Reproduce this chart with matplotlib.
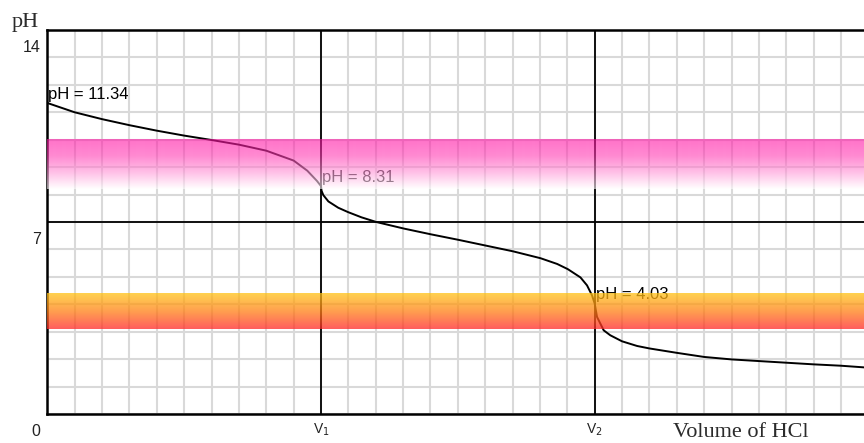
import numpy as np
import matplotlib
matplotlib.use("Agg")
import matplotlib.pyplot as plt

# curve (volume in grid units, V1 = 10, V2 = 20)
vol_1 = [0, 1, 2, 3, 4, 5, 6, 7, 8, 9, 9.5, 9.85, 10.0]
ph_1 = [11.34, 11.0, 10.75, 10.53, 10.33, 10.15, 9.99, 9.82, 9.6, 9.24, 8.87, 8.5, 8.31]
vol_2 = [10.0, 10.02, 10.085, 10.27, 10.63, 10.99, 11.48, 12.02, 13.03, 14.02, 15.02,
         16.02, 17.02, 18.02, 18.63, 19.02, 19.48, 19.72, 19.9, 20.0]
ph_2 = [8.31, 8.14, 7.98, 7.75, 7.52, 7.36, 7.17, 7.0, 6.76, 6.55, 6.35,
        6.14, 5.93, 5.68, 5.47, 5.28, 4.98, 4.69, 4.33, 4.03]
vol_3 = [20.0, 20.085, 20.33, 20.57, 21, 21.55, 22, 23, 24, 25, 26, 27, 28, 29, 29.84]
ph_3 = [4.03, 3.54, 3.05, 2.87, 2.65, 2.48, 2.39, 2.23, 2.08, 1.99, 1.93, 1.87, 1.81, 1.76, 1.70]

equiv_vols = [10, 20]
equiv_labels = ["V$_1$", "V$_2$"]
point_labels = [(0, 11.34, "pH = 11.34"), (10, 8.31, "pH = 8.31"), (20, 4.03, "pH = 4.03")]
y_ticks = [0, 7, 14]

phenol_range = (8.2, 10.0)
methyl_range = (3.1, 4.4)

W, H = 864, 443
X_MAX = 29.84

fig = plt.figure(figsize=(W / 100, H / 100), dpi=100)
ax = fig.add_axes([47.3 / W, 29 / H, 1 - 47.3 / W, 384 / H])
ax.set_xlim(0, X_MAX)
ax.set_ylim(0, 14)

# light grid every unit
ax.set_xticks(np.arange(0, 30))
ax.set_yticks(np.arange(0, 15))
ax.grid(True, color="#d9d9d9", lw=1.5, zorder=0)
ax.tick_params(length=0, labelbottom=False, labelleft=False)
ax.set_axisbelow(True)
for side in ["left", "bottom", "top"]:
    ax.spines[side].set_linewidth(1.8)
    ax.spines[side].set_color("black")
ax.spines["right"].set_visible(False)

for v in equiv_vols:
    ax.axvline(v, color="black", lw=1.3, zorder=2)
ax.axhline(7, color="black", lw=1.3, zorder=2)

curve_x = vol_1 + vol_2[1:] + vol_3[1:]
curve_y = ph_1 + ph_2[1:] + ph_3[1:]
ax.plot(curve_x, curve_y, color="black", lw=1.4, zorder=3,
        solid_joinstyle="round", solid_capstyle="round")

for x, y, txt in point_labels:
    ax.annotate(txt, (x, y), xytext=(1, 4), textcoords="offset pixels",
                ha="left", va="baseline", fontsize=12, family="Liberation Sans",
                color="black", zorder=3)


def band(lo, hi, stops, alpha):
    # vertical gradient overlay, stops listed top -> bottom
    n = 200
    t = np.linspace(0, 1, n)
    pos = np.linspace(0, 1, len(stops))
    cols = np.array(stops, dtype=float) / 255.0
    img = np.zeros((n, 1, 4))
    for c in range(3):
        img[:, 0, c] = np.interp(t, pos, cols[:, c])
    img[:, 0, 3] = alpha
    ax.imshow(img, extent=[0, X_MAX, lo, hi], aspect="auto", origin="upper",
              interpolation="bilinear", zorder=5)


band(*phenol_range, [(255, 20, 165), (255, 60, 180), (255, 150, 215), (255, 255, 255)], 0.6)
band(*methyl_range, [(255, 195, 20), (255, 128, 20), (255, 40, 40)], 0.75)
ax.set_xlim(0, X_MAX)
ax.set_ylim(0, 14)

# axis labels placed like the original
tick_font = dict(fontsize=11.5, family="Liberation Sans", color="#222222")
ax.annotate("14", (0, 14), xytext=(-7, -18), textcoords="offset pixels",
            ha="right", va="center", annotation_clip=False, **tick_font)
for yv in y_ticks[:2]:
    ax.annotate(str(yv), (0, yv), xytext=(-11, -17), textcoords="offset pixels",
                ha="center", va="center", annotation_clip=False, **tick_font)
for v, lab in zip(equiv_vols, equiv_labels):
    ax.annotate(lab, (v, 0), xytext=(0, -16), textcoords="offset pixels",
                ha="center", va="center", annotation_clip=False,
                fontsize=10, family="Liberation Sans", color="#222222")

fig.text(11.7 / W, (H - 27) / H, "pH", fontsize=16, family="Liberation Serif",
         color="#2b2b2b", ha="left", va="baseline")
fig.text(673 / W, 1 / H, "Volume of HCl", fontsize=16, family="Liberation Serif",
         color="#2b2b2b", ha="left", va="bottom")

fig.savefig("out.png", dpi=100)
